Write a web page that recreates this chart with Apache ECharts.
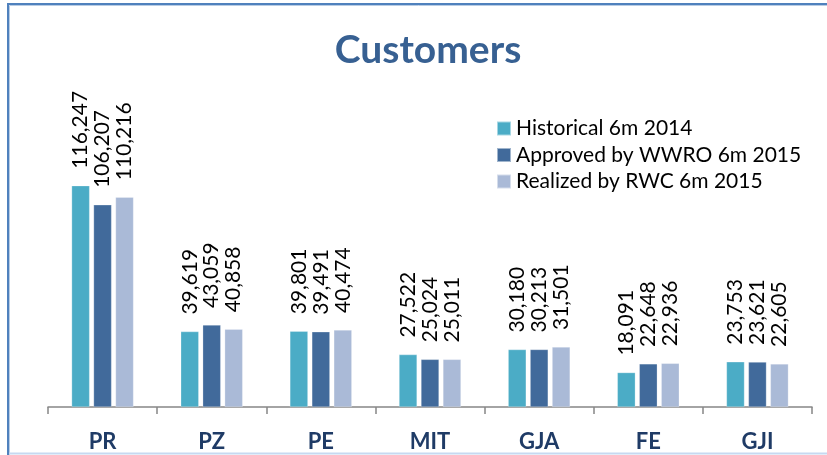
<!DOCTYPE html>
<html>
<head>
<meta charset="utf-8">
<script src="https://cdn.jsdelivr.net/npm/echarts@6/dist/echarts.min.js"></script>
<style>
html,body{margin:0;padding:0;background:#fff;}
#chart{width:827px;height:455px;}
</style>
</head>
<body>
<div id="chart"></div>
<script>
var categories = ['PR', 'PZ', 'PE', 'MIT', 'GJA', 'FE', 'GJI'];
var seriesNames = ['Historical 6m 2014', 'Approved by WWRO 6m 2015', 'Realized by RWC 6m 2015'];
var historical = [116247, 39619, 39801, 27522, 30180, 18091, 23753];
var approved = [106207, 43059, 39491, 25024, 30213, 22648, 23621];
var realized = [110216, 40858, 40474, 25011, 31501, 22936, 22605];
var colors = ['#4BACC6', '#416A9B', '#AABAD7'];

var FONT = 'Lato, "Open Sans", sans-serif';
var chart = echarts.init(document.getElementById('chart'));

function fmt(v) { return v.toLocaleString('en-US'); }

function mkSeries(name, data, color) {
  return {
    name: name,
    type: 'bar',
    data: data,
    barWidth: 18,
    barGap: '22%',
    itemStyle: { color: color, borderColor: 'rgba(255,255,255,0.5)', borderWidth: 0.5 },
    label: {
      show: true,
      position: 'top',
      distance: 17,
      rotate: 90,
      align: 'left',
      verticalAlign: 'middle',
      fontFamily: FONT,
      fontSize: 21,
      color: '#000',
      formatter: function (p) { return fmt(p.value); }
    }
  };
}

chart.setOption({
  animation: false,
  backgroundColor: '#fff',
  title: {
    text: 'Customers',
    left: 423,
    textAlign: 'center',
    top: 26,
    textStyle: { fontFamily: FONT, fontSize: 39, fontWeight: 'bold', color: '#376092' }
  },
  legend: {
    orient: 'vertical',
    left: 496,
    top: 118,
    padding: 0,
    icon: 'rect',
    itemWidth: 14,
    itemHeight: 14,
    itemGap: 5.5,
    textStyle: { fontFamily: FONT, fontSize: 21, color: '#000' },
    data: seriesNames
  },
  grid: { left: 48, right: 15, top: 140.5, bottom: 48 },
  xAxis: {
    type: 'category',
    data: categories,
    axisLine: { lineStyle: { color: '#868686', width: 1.5 } },
    axisTick: { show: true, length: 7, lineStyle: { color: '#868686', width: 1.5 } },
    axisLabel: { margin: 24, fontFamily: FONT, fontSize: 22, fontWeight: 'bold', color: '#1F3B66' }
  },
  yAxis: {
    type: 'value',
    min: 0,
    max: 140000,
    show: false,
    splitLine: { show: false }
  },
  graphic: [
    { type: 'line', shape: { x1: 8, y1: 3, x2: 8, y2: 455 }, style: { stroke: '#4F81BD', lineWidth: 2 } },
    { type: 'line', shape: { x1: 7, y1: 4, x2: 827, y2: 4 }, style: { stroke: '#4F81BD', lineWidth: 2 } },
    { type: 'line', shape: { x1: 9.5, y1: 5.5, x2: 827, y2: 5.5 }, style: { stroke: '#B8CCE4', lineWidth: 1 } },
    { type: 'line', shape: { x1: 9.5, y1: 5.5, x2: 9.5, y2: 455 }, style: { stroke: '#B8CCE4', lineWidth: 1 } },
    { type: 'line', shape: { x1: 9, y1: 453.5, x2: 827, y2: 453.5 }, style: { stroke: '#C6D9F1', lineWidth: 2 } }
  ],
  series: [
    mkSeries(seriesNames[0], historical, colors[0]),
    mkSeries(seriesNames[1], approved, colors[1]),
    mkSeries(seriesNames[2], realized, colors[2])
  ]
});
</script>
</body>
</html>
